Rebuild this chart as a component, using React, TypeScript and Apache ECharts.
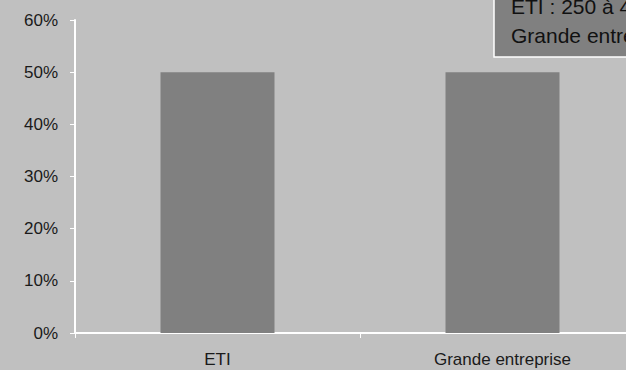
import React, { useEffect, useRef } from "react";
import * as echarts from "echarts";

const categories = ["ETI", "Grande entreprise"];
const values = [0.5, 0.5];
const legendLines = ["ETI : 250 à 4999 salariés", "Grande entreprise : 5000 salariés et plus"];

const FONT = "'Liberation Sans', Arial, sans-serif";

export default function App() {
  const ref = useRef<HTMLDivElement>(null);
  useEffect(() => {
    const chart = echarts.init(ref.current!, undefined, { renderer: "svg" });
    chart.setOption({
      animation: false,
      backgroundColor: "#C0C0C0",
      grid: { left: 75, top: 20, right: 15, bottom: 37, containLabel: false },
      xAxis: {
        type: "category",
        data: categories,
        axisLine: { lineStyle: { color: "#ffffff", width: 2 } },
        axisTick: { show: true, lineStyle: { color: "#ffffff", width: 1 }, length: 5 },
        axisLabel: { color: "#1a1a1a", fontFamily: FONT, fontSize: 17, margin: 18 },
      },
      yAxis: {
        type: "value",
        min: 0,
        max: 0.6,
        interval: 0.1,
        axisLine: { show: true, lineStyle: { color: "#ffffff", width: 2 } },
        axisTick: { show: true, lineStyle: { color: "#ffffff" }, length: 5 },
        splitLine: { show: false },
        axisLabel: {
          color: "#1a1a1a",
          fontFamily: FONT,
          fontSize: 17,
          margin: 17,
          formatter: (v: number) => Math.round(v * 100) + "%",
        },
      },
      series: [
        {
          type: "bar",
          data: values,
          barWidth: "40%",
          itemStyle: { color: "#808080" },
        },
      ],
      graphic: [
        {
          type: "rect",
          shape: { x: 494, y: -10, width: 300, height: 67 },
          style: { fill: "#808080", stroke: "#ffffff", lineWidth: 1.5 },
        },
        {
          type: "text",
          x: 511,
          y: 6,
          style: {
            text: legendLines[0],
            fill: "#111111",
            font: `21px ${FONT}`,
            verticalAlign: "middle",
          },
        },
        {
          type: "text",
          x: 511,
          y: 35,
          style: {
            text: legendLines[1],
            fill: "#111111",
            font: `21px ${FONT}`,
            verticalAlign: "middle",
          },
        },
      ],
    });
    return () => chart.dispose();
  }, []);
  return (
    <div
      ref={ref}
      style={{ position: "fixed", left: 0, top: 0, width: 660, height: 370 }}
    />
  );
}
